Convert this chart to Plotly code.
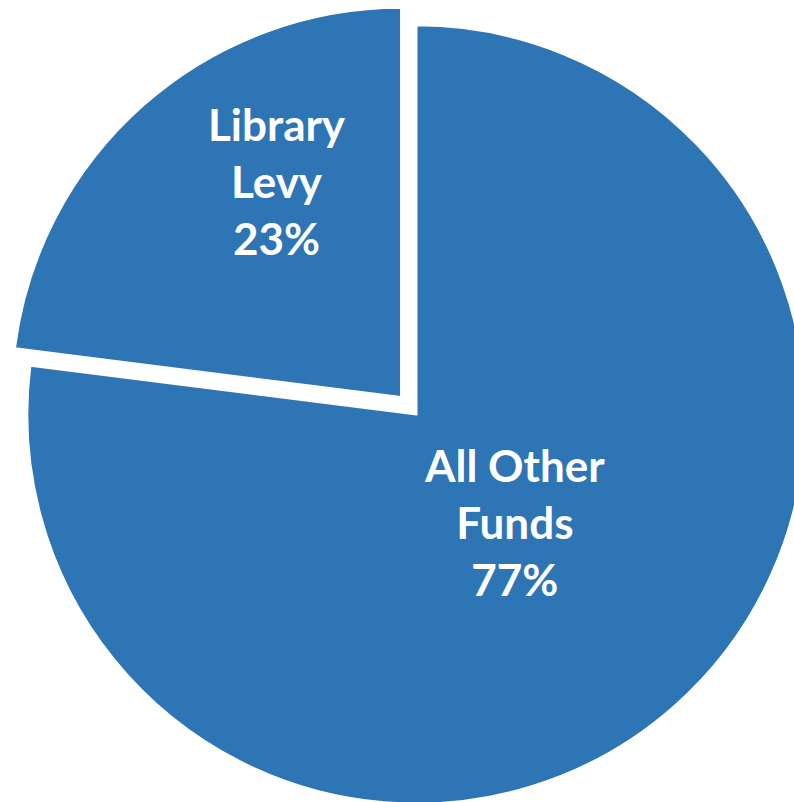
import plotly.graph_objects as go

labels = ["All Other Funds", "Library Levy"]
label_lines = ["All Other<br>Funds", "Library<br>Levy"]
values = [77, 23]
pulls = [0, 0.06]
colors = ["#2E75B6", "#2E75B6"]

# label anchor positions (paper fractions)
label_x = [0.619, 0.331]
label_y = [0.370, 0.783]

fig = go.Figure(go.Pie(
    labels=labels,
    values=values,
    sort=False,
    direction="clockwise",
    rotation=0,
    pull=pulls,
    marker=dict(colors=colors, line=dict(color="white", width=2)),
    textinfo="none",
    hoverinfo="label+percent",
    showlegend=False,
))

for line, v, x, y in zip(label_lines, values, label_x, label_y):
    fig.add_annotation(
        x=x, y=y, xref="paper", yref="paper",
        text=f"<b>{line}<br>{v}%</b>",
        showarrow=False, align="center",
        xanchor="center", yanchor="middle",
        font=dict(family="Lato, Open Sans, sans-serif", size=44, color="white"),
    )

fig.update_layout(
    width=829,
    height=827,
    margin=dict(l=4, r=0, t=2, b=0),
    paper_bgcolor="white",
    plot_bgcolor="white",
)

fig.write_html("out.html", post_script="document.body.style.margin='0';document.body.style.overflow='hidden';document.documentElement.style.overflow='hidden';")
